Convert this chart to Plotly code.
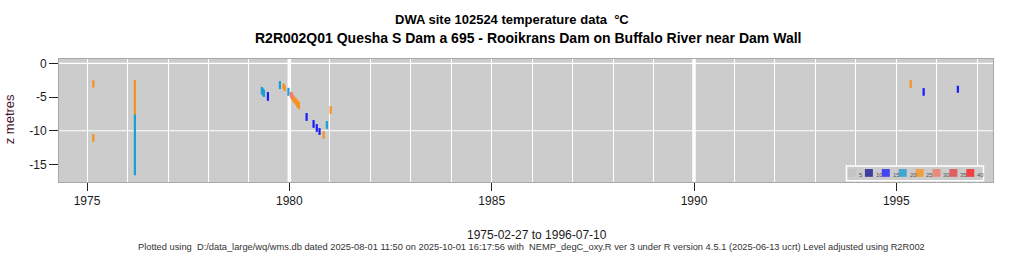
import plotly.graph_objects as go

# ---------------- data ----------------
# each measurement drawn as a vertical segment: date, top z, bottom z, temperature class
dates = ["1975-02-27", "1975-02-27", "1976-03-08", "1976-03-08",
         "1979-04-28", "1979-05-07", "1979-05-17", "1979-06-22",
         "1979-10-08", "1979-11-10", "1979-11-21", "1979-12-24",
         "1980-01-15", "1980-01-26", "1980-02-06", "1980-02-18",
         "1980-03-02", "1980-03-13", "1980-03-28", "1980-06-05",
         "1980-08-07", "1980-09-05", "1980-09-30", "1980-11-06",
         "1980-12-05", "1981-01-08", "1995-05-11", "1995-09-05",
         "1996-07-10"]
z_top = [-2.5, -10.5, -2.5, -7.55,
         -3.5, -3.7, -3.9, -4.26,
         -2.63, -2.97, -3.27, -3.63,
         -4.22, -4.31, -4.71, -4.96,
         -5.2, -5.45, -5.7, -7.38,
         -8.42, -9.02, -9.61, -10.06,
         -8.57, -6.34, -2.48, -3.67,
         -3.33]
z_bottom = [-3.6, -11.65, -7.55, -16.6,
            -4.6, -4.8, -5.0, -5.56,
            -3.82, -3.82, -4.12, -4.81,
            -5.2, -5.45, -5.7, -5.94,
            -6.2, -6.54, -6.83, -8.53,
            -9.57, -10.16, -10.61, -11.2,
            -9.72, -7.49, -3.63, -4.81,
            -4.37]
temp_class = [25, 25, 25, 20,
              20, 20, 20, 15,
              20, 25, 25, 20,
              30, 30, 25, 25,
              25, 25, 25, 15,
              15, 15, 15, 25,
              20, 25, 25, 15,
              15]

legend_labels = [5, 10, 15, 20, 25, 30, 35, 40]
legend_colors = ["#c4c4c4", "#3e3e9e", "#4343f0", "#40a8d0",
                 "#f0a040", "#e88a7a", "#e06060", "#f04040"]
data_colors = {15: "#1a1aff", 20: "#1b9fd5", 25: "#f5921e", 30: "#f08070"}

title1 = "DWA site 102524 temperature data  °C"
title2 = "R2R002Q01 Quesha S Dam a 695 - Rooikrans Dam on Buffalo River near Dam Wall"
x_title = "1975-02-27 to 1996-07-10"
caption = ("Plotted using  D:/data_large/wq/wms.db dated 2025-08-01 11:50 on 2025-10-01 16:17:56 with  "
           "NEMP_degC_oxy.R ver 3 under R version 4.5.1 (2025-06-13 ucrt) Level adjusted using R2R002")
y_title = "z metres"

# ---------------- figure ----------------
W, H = 1024, 256
L, R, T, B = 59, 993, 59, 182.5

fig = go.Figure()
for cls, col in data_colors.items():
    xs, ys = [], []
    for d, a, b, c in zip(dates, z_top, z_bottom, temp_class):
        if c == cls:
            xs += [d, d, None]
            ys += [a, b, None]
    fig.add_trace(go.Scatter(x=xs, y=ys, mode="lines", line=dict(color=col, width=2.2),
                             showlegend=False, hoverinfo="skip"))

font = "Liberation Sans, Arial, sans-serif"


def px(xp):
    return (xp - L) / (R - L)


def py(yp):
    return (B - yp) / (B - T)


shapes = []
# thick decade lines
for yr in ["1980-01-01", "1990-01-01"]:
    shapes.append(dict(type="line", xref="x", yref="paper", x0=yr, x1=yr, y0=0, y1=1,
                       line=dict(color="white", width=3.5), layer="below"))
# horizontal grid lines every 10 m
for yv in [0, -10]:
    shapes.append(dict(type="line", xref="paper", yref="y", x0=0, x1=1, y0=yv, y1=yv,
                       line=dict(color="white", width=1.2), layer="below"))

# legend box
shapes.append(dict(type="rect", xref="paper", yref="paper",
                   x0=px(846.5), x1=px(983.5), y0=py(181.3), y1=py(166.5),
                   line=dict(color="white", width=1.5), fillcolor="#cccccc", layer="above"))
annotations = []
for i, (lab, col) in enumerate(zip(legend_labels, legend_colors)):
    x0 = 848 + 16.9 * i
    shapes.append(dict(type="rect", xref="paper", yref="paper",
                       x0=px(x0), x1=px(x0 + 8), y0=py(177.3), y1=py(169.5),
                       line=dict(width=0), fillcolor=col, layer="above"))
    annotations.append(dict(xref="paper", yref="paper", x=px(x0 + 8.8), y=py(180.5),
                            text=str(lab), showarrow=False, xanchor="left", yanchor="bottom",
                            font=dict(family=font, size=6, color="#555555")))

# titles and captions
annotations.append(dict(xref="paper", yref="paper", x=px(512), y=py(19), text="<b>" + title1 + "</b>",
                        showarrow=False, font=dict(family=font, size=13, color="black"),
                        xanchor="center", yanchor="middle"))
annotations.append(dict(xref="paper", yref="paper", x=px(527.5), y=py(38), text="<b>" + title2 + "</b>",
                        showarrow=False, font=dict(family=font, size=14, color="black"),
                        xanchor="center", yanchor="middle"))
annotations.append(dict(xref="paper", yref="paper", x=px(536.5), y=py(236), text=x_title,
                        showarrow=False, font=dict(family=font, size=12, color="#1a1a1a"),
                        xanchor="center", yanchor="middle"))
annotations.append(dict(xref="paper", yref="paper", x=px(531), y=py(247.5), text=caption,
                        showarrow=False, font=dict(family=font, size=9.3, color="#333333"),
                        xanchor="center", yanchor="middle"))
annotations.append(dict(xref="paper", yref="paper", x=px(9.5), y=py(120), text=y_title,
                        textangle=-90, showarrow=False, font=dict(family=font, size=13, color="#4a1030"),
                        xanchor="center", yanchor="middle"))

fig.update_layout(
    width=W, height=H,
    margin=dict(l=L, r=W - R, t=T, b=H - B, pad=0),
    paper_bgcolor="white", plot_bgcolor="#cccccc",
    showlegend=False,
    shapes=shapes, annotations=annotations,
    font=dict(family=font, size=12, color="#1a1a1a"),
    xaxis=dict(type="date", range=["1974-04-23", "1997-05-23"],
               tick0="1975-01-01", dtick="M60", tickformat="%Y",
               ticks="outside", ticklen=8, tickcolor="#222222", tickwidth=1,
               showgrid=True, gridcolor="white", gridwidth=1,
               minor=dict(dtick="M12", tick0="1975-01-01", showgrid=True, gridcolor="white",
                          gridwidth=1, ticklen=0),
               showline=True, mirror=True, linecolor="#a8a8a8", linewidth=1,
               zeroline=False, tickfont=dict(size=12, color="#1a1a1a")),
    yaxis=dict(range=[-17.6, 0.64], tickvals=[0, -5, -10, -15], ticktext=["0", "-5", "-10", "-15"],
               ticks="outside", ticklen=9, tickcolor="#222222", tickwidth=1,
               showgrid=False, zeroline=False,
               showline=True, mirror=True, linecolor="#a8a8a8", linewidth=1,
               tickfont=dict(size=12, color="#1a1a1a")),
)

fig.write_html("out.html")
